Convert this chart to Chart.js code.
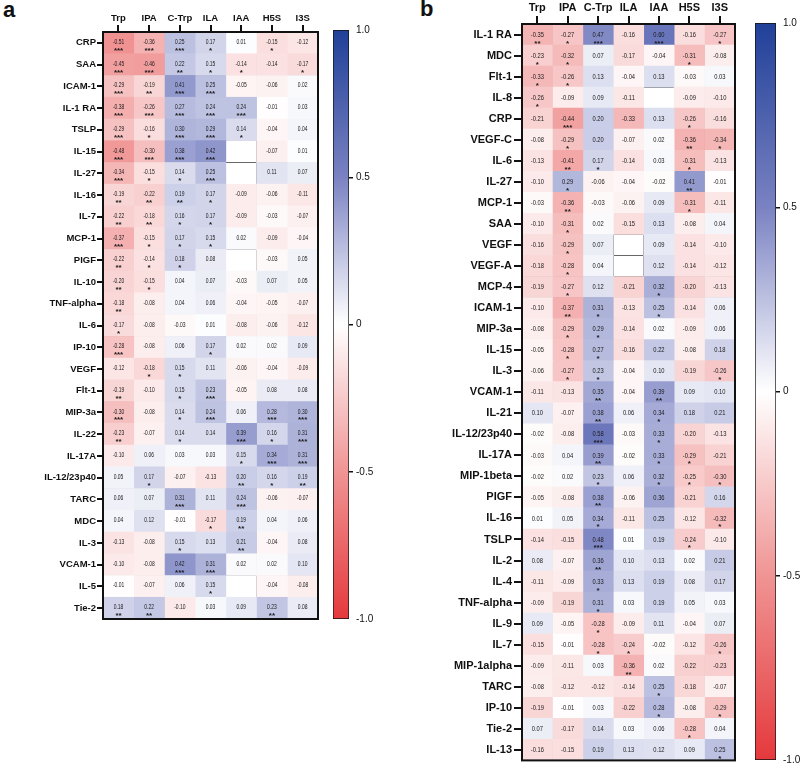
<!DOCTYPE html>
<html>
<head>
<meta charset="utf-8">
<script src="https://cdn.jsdelivr.net/npm/chart.js@4.4.1/dist/chart.umd.min.js"></script>
<style>
  body { margin: 0; background: #fff; width: 800px; height: 769px; position: relative; overflow: hidden;
         font-family: "Liberation Sans", Arial, sans-serif; }
  canvas { position: absolute; }
  .tag { position: absolute; font-weight: bold; font-size: 22px; color: #111; }
</style>
</head>
<body>
<div class="tag" style="left:3px;top:-3px">a</div>
<div class="tag" style="left:420px;top:-4px">b</div>
<canvas id="heatA" width="325" height="630" style="left:0;top:0"></canvas>
<canvas id="barA" width="60" height="640" style="left:325px;top:0"></canvas>
<canvas id="heatB" width="340" height="769" style="left:400px;top:0"></canvas>
<canvas id="barB" width="55" height="769" style="left:745px;top:0"></canvas>
<script>
const cols = ["Trp", "IPA", "C-Trp", "ILA", "IAA", "H5S", "I3S"];

// panel a
const rowsA = ["CRP", "SAA", "ICAM-1", "IL-1 RA", "TSLP", "IL-15", "IL-27", "IL-16", "IL-7", "MCP-1",
  "PIGF", "IL-10", "TNF-alpha", "IL-6", "IP-10", "VEGF", "Flt-1", "MIP-3a", "IL-22", "IL-17A",
  "IL-12/23p40", "TARC", "MDC", "IL-3", "VCAM-1", "IL-5", "Tie-2"];
const valsA = [
  [-0.51, -0.36, 0.25, 0.17, 0.01, -0.15, -0.12],
  [-0.45, -0.46, 0.22, 0.15, -0.14, -0.14, -0.17],
  [-0.29, -0.19, 0.41, 0.25, -0.05, -0.06, 0.02],
  [-0.38, -0.26, 0.27, 0.24, 0.24, -0.01, 0.03],
  [-0.29, -0.16, 0.30, 0.29, 0.14, -0.04, 0.04],
  [-0.48, -0.30, 0.38, 0.42, null, -0.07, 0.01],
  [-0.34, -0.15, 0.14, 0.25, null, 0.11, 0.07],
  [-0.19, -0.22, 0.19, 0.17, -0.09, -0.06, -0.11],
  [-0.22, -0.18, 0.16, 0.17, -0.09, -0.03, -0.07],
  [-0.37, -0.15, 0.17, 0.15, 0.02, -0.09, -0.04],
  [-0.22, -0.14, 0.18, 0.08, null, -0.03, 0.05],
  [-0.20, -0.15, 0.04, 0.07, -0.03, 0.07, 0.05],
  [-0.18, -0.08, 0.04, 0.06, -0.04, -0.05, -0.07],
  [-0.17, -0.08, -0.03, 0.01, -0.08, -0.06, -0.12],
  [-0.28, -0.08, 0.06, 0.17, 0.02, 0.02, 0.09],
  [-0.12, -0.18, 0.15, 0.11, -0.06, -0.04, -0.09],
  [-0.19, -0.10, 0.15, 0.23, -0.05, 0.08, 0.08],
  [-0.30, -0.08, 0.14, 0.24, 0.06, 0.28, 0.30],
  [-0.23, -0.07, 0.14, 0.14, 0.39, 0.16, 0.31],
  [-0.10, 0.06, 0.03, 0.03, 0.15, 0.34, 0.31],
  [0.05, 0.17, -0.07, -0.13, 0.20, 0.16, 0.19],
  [0.06, 0.07, 0.31, 0.11, 0.24, -0.06, -0.07],
  [0.04, 0.12, -0.01, -0.17, 0.19, 0.04, 0.06],
  [-0.13, -0.08, 0.15, 0.13, 0.21, -0.04, 0.08],
  [-0.10, -0.08, 0.42, 0.31, 0.02, 0.02, 0.10],
  [-0.01, -0.07, 0.06, 0.15, null, -0.04, -0.08],
  [0.18, 0.22, -0.10, 0.03, 0.09, 0.23, 0.08],
];
// number of stars per cell, one digit per column
const starsA = ["3331010", "3321101", "3233000", "3333300", "3133100", "3333000", "3113000",
  "2221000", "2211000", "3111000", "2110000", "2100000", "2000000", "1000000", "3001000",
  "0110000", "2013000", "3013033", "2010313", "0000133", "0100212", "0030300", "0001200",
  "0010200", "0033000", "0001000", "2200020"];

// panel b
const rowsB = ["IL-1 RA", "MDC", "Flt-1", "IL-8", "CRP", "VEGF-C", "IL-6", "IL-27", "MCP-1", "SAA",
  "VEGF", "VEGF-A", "MCP-4", "ICAM-1", "MIP-3a", "IL-15", "IL-3", "VCAM-1", "IL-21", "IL-12/23p40",
  "IL-17A", "MIP-1beta", "PIGF", "IL-16", "TSLP", "IL-2", "IL-4", "TNF-alpha", "IL-9", "IL-7",
  "MIP-1alpha", "TARC", "IP-10", "Tie-2", "IL-13"];
const valsB = [
  [-0.35, -0.27, 0.47, -0.16, 0.60, -0.16, -0.27],
  [-0.23, -0.32, 0.07, -0.17, -0.04, -0.31, -0.08],
  [-0.33, -0.26, 0.13, -0.04, 0.13, -0.03, 0.03],
  [-0.26, -0.09, 0.09, -0.11, null, -0.09, -0.10],
  [-0.21, -0.44, 0.20, -0.33, 0.13, -0.26, -0.16],
  [-0.08, -0.29, 0.20, -0.07, 0.02, -0.36, -0.34],
  [-0.13, -0.41, 0.17, -0.14, 0.03, -0.31, -0.13],
  [-0.10, 0.29, -0.06, -0.04, -0.02, 0.41, -0.01],
  [-0.03, -0.36, -0.03, -0.06, 0.09, -0.31, -0.11],
  [-0.10, -0.31, 0.02, -0.15, 0.13, -0.08, 0.04],
  [-0.16, -0.29, 0.07, null, 0.09, -0.14, -0.10],
  [-0.18, -0.28, 0.04, null, 0.12, -0.14, -0.12],
  [-0.19, -0.27, 0.12, -0.21, 0.32, -0.20, -0.13],
  [-0.10, -0.37, 0.31, -0.13, 0.25, -0.14, 0.06],
  [-0.08, -0.29, 0.29, -0.14, 0.02, -0.09, 0.06],
  [-0.05, -0.28, 0.27, -0.16, 0.22, -0.08, 0.18],
  [-0.06, -0.27, 0.23, -0.04, 0.10, -0.19, -0.26],
  [-0.11, -0.13, 0.35, -0.04, 0.39, 0.09, 0.10],
  [0.10, -0.07, 0.38, 0.06, 0.34, 0.18, 0.21],
  [-0.02, -0.08, 0.58, -0.03, 0.33, -0.20, -0.13],
  [-0.03, 0.04, 0.39, -0.02, 0.33, -0.29, -0.21],
  [-0.02, 0.02, 0.23, 0.06, 0.32, -0.25, -0.30],
  [-0.05, -0.08, 0.38, -0.06, 0.36, -0.21, 0.16],
  [0.01, 0.05, 0.34, -0.11, 0.25, -0.12, -0.32],
  [-0.14, -0.15, 0.48, 0.01, 0.19, -0.24, -0.10],
  [0.08, -0.07, 0.36, 0.10, 0.13, 0.02, 0.21],
  [-0.11, -0.09, 0.33, 0.13, 0.19, 0.08, 0.17],
  [-0.09, -0.19, 0.31, 0.03, 0.19, 0.05, 0.03],
  [0.09, -0.05, -0.28, -0.09, 0.11, -0.04, 0.07],
  [-0.15, -0.01, -0.28, -0.24, -0.02, -0.12, -0.26],
  [-0.09, -0.11, 0.03, -0.36, 0.02, -0.22, -0.23],
  [-0.08, -0.12, -0.12, -0.14, 0.25, -0.18, -0.07],
  [-0.19, -0.01, 0.03, -0.22, 0.28, -0.08, -0.29],
  [0.07, -0.17, 0.14, 0.03, 0.06, -0.28, 0.04],
  [-0.16, -0.15, 0.19, 0.13, 0.12, 0.09, 0.25],
];
const starsB = ["2130301", "1100010", "1100000", "1000000", "0300010", "0100021", "0210010",
  "0100020", "0200010", "0100000", "0100000", "0100000", "0100100", "0210100", "0110000",
  "0110000", "0110001", "0020200", "0020100", "0030100", "0020110", "0010111", "0020000",
  "0010001", "0030010", "0020000", "0010000", "0010000", "0010000", "0011001", "0002000",
  "0000100", "0000101", "0000010", "0000001"];

// colour scale -1 .. 1
const stops = [
  [-1, [229, 57, 60]],
  [-0.5, [240, 148, 148]],
  [0, [255, 255, 255]],
  [0.5, [122, 130, 194]],
  [1, [32, 64, 152]],
];

Chart.defaults.font.family = "'Liberation Sans', Arial, sans-serif";
Chart.defaults.color = "#111";

const rgb = (c) => "rgb(" + c.map(Math.round).join(",") + ")";

function cellColor(v) {
  if (v == null) return "#fff";
  for (let k = 1; k < stops.length; k++) {
    const [v0, c0] = stops[k - 1];
    const [v1, c1] = stops[k];
    if (v <= v1) {
      const t = (v - v0) / (v1 - v0);
      return rgb(c0.map((c, i) => c + (c1[i] - c) * t));
    }
  }
  return rgb(stops[stops.length - 1][1]);
}

const cellText = {
  id: "cellText",
  afterDatasetsDraw(chart, args, opts) {
    const ctx = chart.ctx;
    ctx.save();
    ctx.fillStyle = "#1a1a1a";
    ctx.textAlign = "center";
    chart.data.datasets.forEach((ds, d) => {
      chart.getDatasetMeta(d).data.forEach((bar, i) => {
        const v = ds.vals[i];
        if (v == null) return;
        const { x, y, base } = bar.getProps(["x", "y", "base"], true);
        const cx = (x + base) / 2;
        const n = +ds.stars[i];
        ctx.save();
        ctx.translate(cx, y + opts.numY);
        ctx.scale(opts.squeeze, 1);
        ctx.font = opts.numSize + "px 'Liberation Sans', Arial, sans-serif";
        ctx.textBaseline = "middle";
        ctx.fillText(v.toFixed(2), 0, 0);
        ctx.restore();
        if (n) {
          ctx.font = "bold " + opts.starSize + "px 'Liberation Sans', Arial, sans-serif";
          ctx.textBaseline = "alphabetic";
          ctx.fillText("*".repeat(n), cx, y + opts.starY);
        }
      });
    });
    ctx.restore();
  },
};

const frame = {
  id: "frame",
  afterDraw(chart) {
    const a = chart.chartArea;
    const ctx = chart.ctx;
    ctx.save();
    ctx.lineWidth = 2;
    ctx.strokeStyle = "#111";
    ctx.strokeRect(a.left, a.top, a.right - a.left, a.bottom - a.top);
    ctx.restore();
  },
};

function heatmap(id, rows, vals, stars, o) {
  return new Chart(document.getElementById(id), {
    type: "bar",
    data: {
      labels: rows,
      datasets: cols.map((c, j) => ({
        label: c,
        data: vals.map((r) => (r[j] == null ? null : [j, j + 1])),
        vals: vals.map((r) => r[j]),
        stars: stars.map((s) => s[j]),
        backgroundColor: vals.map((r) => cellColor(r[j])),
        borderWidth: 0,
        barPercentage: 1,
        categoryPercentage: 1,
        grouped: false,
      })),
    },
    options: {
      indexAxis: "y",
      responsive: false,
      animation: false,
      events: [],
      layout: { padding: { left: 0, top: 0, right: o.padRight, bottom: o.padBottom } },
      plugins: {
        legend: { display: false },
        tooltip: { enabled: false },
        cellText: o.text,
      },
      scales: {
        x: {
          type: "linear", min: 0, max: 7, position: "bottom", z: 1,
          ticks: { display: false, stepSize: 1 },
          grid: { color: "#404040", lineWidth: 0.8, drawTicks: false },
          border: { display: false },
          afterFit: (s) => { s.height = 0; },
        },
        x2: {
          type: "category", labels: cols, position: "top", offset: true,
          ticks: { font: { size: o.labelSize, weight: "bold" }, padding: 1, autoSkip: false, maxRotation: 0 },
          grid: { offset: false, drawOnChartArea: false, tickLength: o.colTick, lineWidth: 2, color: "#111" },
          border: { display: false },
          afterFit: (s) => { s.height = o.top; },
        },
        y: {
          type: "category", position: "left", offset: true,
          ticks: { font: { size: o.labelSize, weight: "bold" }, padding: o.rowPad, autoSkip: false },
          grid: { offset: false, drawOnChartArea: false, tickLength: o.rowTick, lineWidth: 2, color: "#111" },
          border: { display: false },
          afterFit: (s) => { s.width = o.left; },
        },
        y2: {
          type: "category", position: "right", offset: true, z: 1,
          ticks: { display: false },
          grid: { offset: true, color: "#404040", lineWidth: 0.8, drawTicks: false },
          border: { display: false },
          afterFit: (s) => { s.width = 0; },
        },
      },
    },
    plugins: [cellText, frame],
  });
}

function colorbar(id, o) {
  return new Chart(document.getElementById(id), {
    type: "bar",
    data: {
      labels: [""],
      datasets: [{
        data: [[-1, 1]],
        backgroundColor: (ctx) => {
          const a = ctx.chart.chartArea;
          if (!a) return null;
          const g = ctx.chart.ctx.createLinearGradient(0, a.bottom, 0, a.top);
          stops.forEach(([v, c]) => g.addColorStop((v + 1) / 2, rgb(c)));
          return g;
        },
        borderColor: "#111",
        borderWidth: 1,
        borderSkipped: false,
        barPercentage: 1,
        categoryPercentage: 1,
      }],
    },
    options: {
      responsive: false,
      animation: false,
      events: [],
      layout: { padding: { left: o.left, top: o.top, bottom: o.bottom, right: 0 } },
      plugins: { legend: { display: false }, tooltip: { enabled: false } },
      scales: {
        x: { display: false },
        y: {
          position: "right", min: -1, max: 1,
          ticks: {
            stepSize: 0.5, padding: 3, font: { size: 10 },
            callback: (v) => (v === 0 ? "0" : Math.abs(v) === 1 ? v.toFixed(1) : String(v)),
          },
          grid: {
            drawOnChartArea: false, tickLength: 4, lineWidth: 1.5,
            color: (c) => (Math.abs(c.tick.value) === 1 ? "rgba(0,0,0,0)" : "#111"),
          },
          border: { display: false },
          afterFit: (s) => { s.width = o.axisW; },
        },
      },
    },
  });
}

heatmap("heatA", rowsA, valsA, starsA, {
  left: 103, top: 32, padRight: 7, padBottom: 11,
  labelSize: 9.5, rowTick: 6, rowPad: 1, colTick: 7,
  text: { numSize: 7.5, squeeze: 0.66, numY: -1, starSize: 8, starY: 10 },
});
heatmap("heatB", rowsB, valsB, starsB, {
  left: 122, top: 24, padRight: 5, padBottom: 6,
  labelSize: 11, rowTick: 8, rowPad: 2, colTick: 8,
  text: { numSize: 8, squeeze: 0.72, numY: 0, starSize: 8, starY: 11 },
});
colorbar("barA", { left: 8, top: 30, bottom: 21, axisW: 36 });
colorbar("barB", { left: 10, top: 23, bottom: 4, axisW: 24 });
</script>
</body>
</html>
